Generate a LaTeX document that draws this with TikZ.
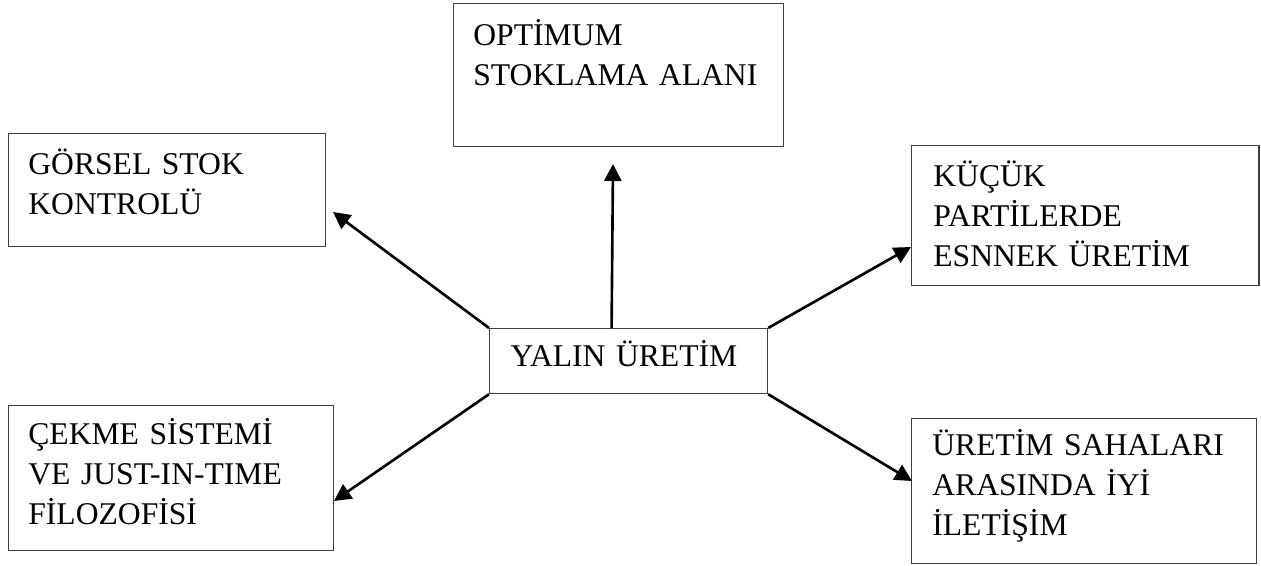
\documentclass[tikz,border=0pt]{standalone}
\usepackage{fontspec}
\setmainfont{Liberation Serif}
\usetikzlibrary{arrows.meta}

\tikzset{
	box/.style={draw=black!75, line width=0.7pt, anchor=north west, inner sep=0pt},
	boxtext/.style={anchor=base west, inner sep=0pt, text width=7cm, align=left,
		font=\fontsize{18pt}{22.8pt}\selectfont},
	arr/.style={-{Triangle[length=0.34cm,width=0.34cm]}, line width=1.5pt}
}

\begin{document}
\begin{tikzpicture}[x=0.02cm, y=-0.02cm]
	\useasboundingbox (0,0) rectangle (1261,565);
	%boxes
	\node[box, minimum width=6.34cm, minimum height=2.26cm] (gorsel) at (8,133) {};
	\node[box, minimum width=6.6cm, minimum height=2.86cm] (optimum) at (453,3) {};
	\node[box, minimum width=6.95cm, minimum height=2.8cm] (kucuk) at (911,145) {};
	\node[box, minimum width=5.56cm, minimum height=1.3cm] (yalin) at (489,328) {};
	\node[box, minimum width=6.5cm, minimum height=2.9cm] (cekme) at (8,405) {};
	\node[box, minimum width=6.9cm, minimum height=2.9cm] (uretim) at (911,418) {};
	%texts
	\node[boxtext] (gorsel text) at (28,174) {GÖRSEL STOK\\KONTROLÜ};
	\node[boxtext] (optimum text) at (473,45) {OPTİMUM\\STOKLAMA ALANI};
	\node[boxtext] (kucuk text) at (933,186) {KÜÇÜK\\PARTİLERDE\\ESNNEK ÜRETİM};
	\node[boxtext, anchor=base, align=center] (yalin text) at (624,366) {YALIN ÜRETİM};
	\node[boxtext] (cekme text) at (28,444) {ÇEKME SİSTEMİ\\VE JUST-IN-TIME\\FİLOZOFİSİ};
	\node[boxtext] (uretim text) at (932,455) {ÜRETİM SAHALARI\\ARASINDA İYİ\\İLETİŞİM};
	%arrow tips
	\coordinate (optimum tip) at (613,164);
	\coordinate (gorsel tip) at (333,212);
	\coordinate (kucuk tip) at (911,247);
	\coordinate (cekme tip) at (334,501);
	\coordinate (uretim tip) at (912,481);
	%arrows
	\draw[arr] ([xshift=-0.34cm]yalin.north) -- (optimum tip);
	\draw[arr] (yalin.north west) -- (gorsel tip);
	\draw[arr] (yalin.north east) -- (kucuk tip);
	\draw[arr] (yalin.south west) -- (cekme tip);
	\draw[arr] (yalin.south east) -- (uretim tip);
\end{tikzpicture}
\end{document}
